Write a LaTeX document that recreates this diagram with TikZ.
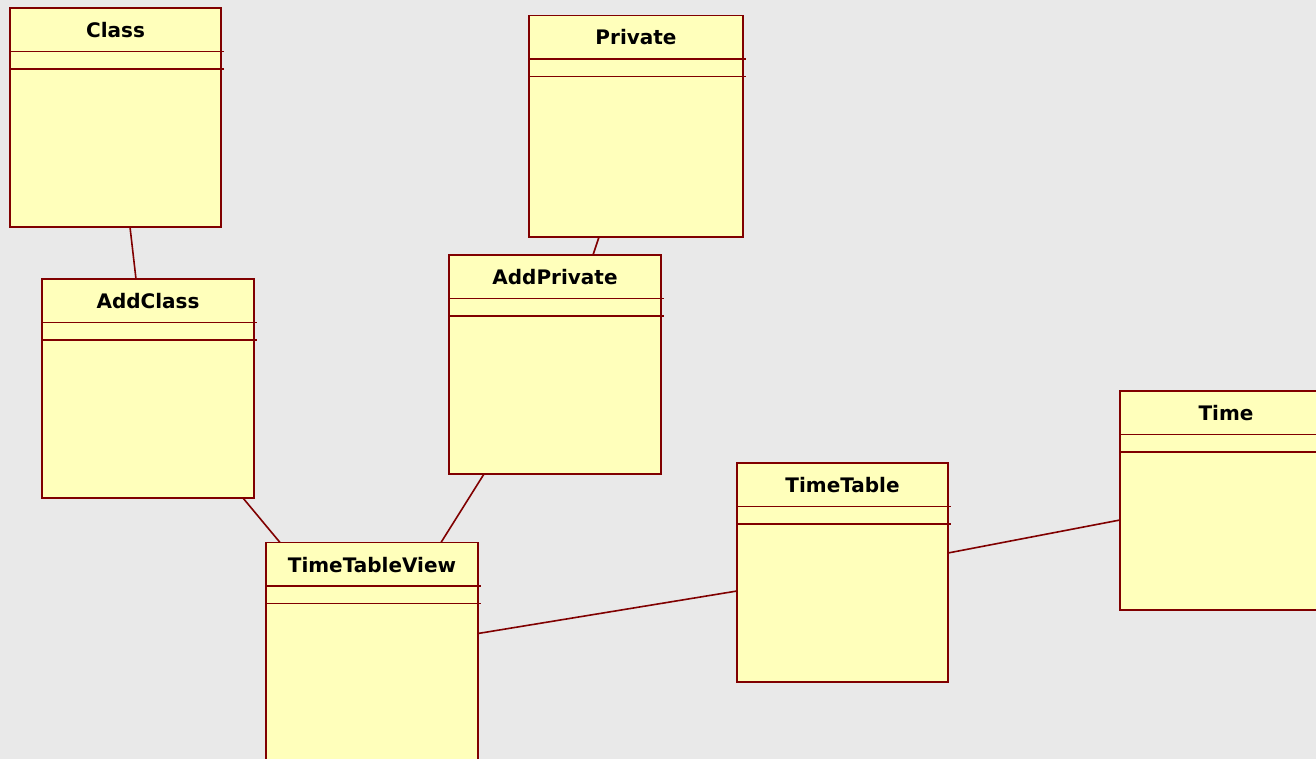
\documentclass[tikz,border=0pt]{standalone}
\usepackage{fontspec}
\setmainfont{DejaVu Sans}
\usepackage{tikz}
\usetikzlibrary{positioning}
\definecolor{umlred}{RGB}{128,0,0}
\definecolor{umlfill}{RGB}{255,255,187}
\definecolor{canvas}{RGB}{233,233,233}
\tikzset{classbox/.style={draw=umlred,fill=umlfill,line width=1.8pt,
        anchor=north west,inner sep=0pt,outer sep=0pt},
    classname/.style={anchor=base,font=\bfseries\fontsize{20}{23}\selectfont},
    compart/.style={draw=umlred,line width=1.8pt},
    assoc/.style={draw=umlred,line width=1.6pt}}

\begin{document}
\begin{tikzpicture}[x=1pt,y=-1pt]
\useasboundingbox (0,0) rectangle (1316,759);
\fill[canvas] (0,0) rectangle (1316,759);
\clip (0,0) rectangle (1316,759);
% the classes
\foreach \nm/\x/\y/\w/\h/\txt in {
    class/10/8/211/219/Class,
    private/529/15.5/214/221.5/Private,
    addclass/42/279/212/219/AddClass,
    addprivate/449/255/212/219/AddPrivate,
    view/266/542.5/212/219/TimeTableView,
    timetable/737/463/211/219/TimeTable,
    time/1120/391/212/219/Time}
{
    \node[classbox,minimum width={\w pt},minimum height={\h pt}] (\nm) at (\x,\y) {};
    \node[classname] (\nm-title) at ([yshift=-29.5pt]\nm.north) {\txt};
    \draw[compart] ([yshift=-43.5pt]\nm.north west) -- ++(\w+3,0);
    \draw[compart] ([yshift=-61pt]\nm.north west) -- ++(\w+3,0);
}
% associations
\draw[assoc] ([xshift=120pt]class.south west) -- ([xshift=94pt]addclass.north west);
\draw[assoc] ([xshift=70pt]private.south west) -- ([xshift=144pt]addprivate.north west);
\draw[assoc] ([xshift=201pt]addclass.south west) -- ([xshift=14pt]view.north west);
\draw[assoc] ([xshift=35pt]addprivate.south west) -- ([xshift=175pt]view.north west);
\draw[assoc] ([yshift=-91pt]view.north east) -- ([yshift=-128pt]timetable.north west);
\draw[assoc] ([yshift=-90pt]timetable.north east) -- ([yshift=-129pt]time.north west);
\end{tikzpicture}
\end{document}
